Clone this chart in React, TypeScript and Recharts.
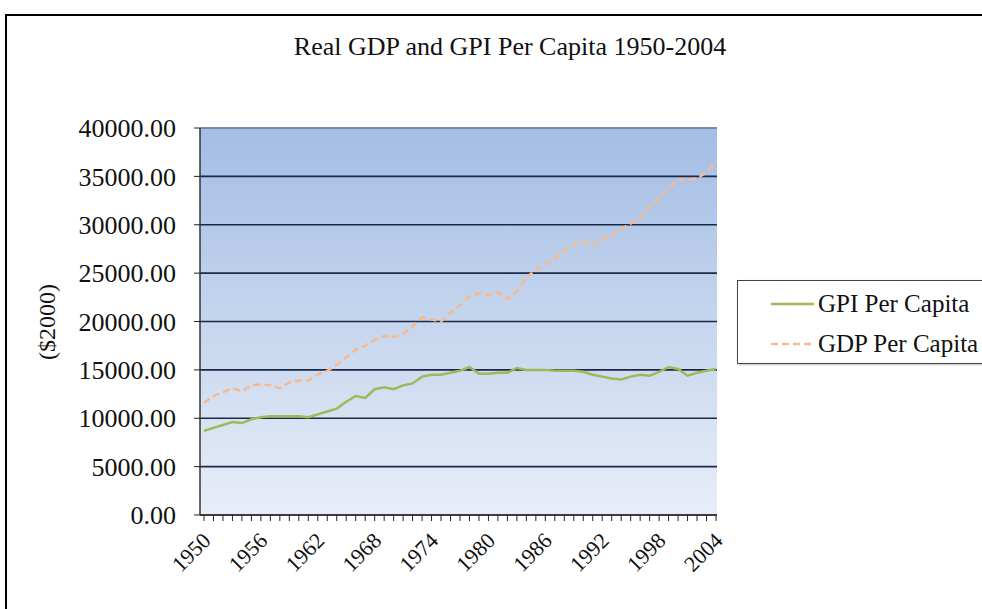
import { LineChart, Line, XAxis, YAxis, CartesianGrid, ReferenceLine } from "recharts";

const years = [
  1950, 1951, 1952, 1953, 1954, 1955, 1956, 1957, 1958, 1959,
  1960, 1961, 1962, 1963, 1964, 1965, 1966, 1967, 1968, 1969,
  1970, 1971, 1972, 1973, 1974, 1975, 1976, 1977, 1978, 1979,
  1980, 1981, 1982, 1983, 1984, 1985, 1986, 1987, 1988, 1989,
  1990, 1991, 1992, 1993, 1994, 1995, 1996, 1997, 1998, 1999,
  2000, 2001, 2002, 2003, 2004,
];

const gpiPerCapita = [
  8700, 9000, 9300, 9600, 9500, 9900, 10100, 10200, 10200, 10200,
  10200, 10100, 10400, 10700, 11000, 11700, 12300, 12100, 13000, 13200,
  13000, 13400, 13600, 14300, 14500, 14500, 14700, 14900, 15300, 14600,
  14600, 14700, 14700, 15200, 15000, 15000, 15000, 14900, 14900, 14900,
  14800, 14500, 14300, 14100, 14000, 14300, 14500, 14400, 14800, 15300,
  15100, 14400, 14700, 14900, 15100,
];

const gdpPerCapita = [
  11600, 12300, 12700, 13100, 12800, 13400, 13500, 13400, 13100, 13700,
  13900, 13900, 14500, 14900, 15500, 16300, 17100, 17500, 18100, 18500,
  18400, 18700, 19500, 20400, 20200, 20000, 20900, 21700, 22600, 22900,
  22700, 23000, 22300, 23100, 24600, 25300, 25900, 26500, 27300, 28000,
  28400, 27900, 28400, 28900, 29600, 30100, 30800, 31800, 32700, 33700,
  34700, 34600, 34800, 35400, 36500,
];

const yTicks = [0, 5000, 10000, 15000, 20000, 25000, 30000, 35000, 40000];
const labelYears = [1950, 1956, 1962, 1968, 1974, 1980, 1986, 1992, 1998, 2004];

const data = years.map((year, i) => ({
  year,
  gpi: gpiPerCapita[i],
  gdp: gdpPerCapita[i],
}));

const serif = "'Liberation Serif', 'Times New Roman', Times, serif";
const GREEN = "#9bbb59";
const ORANGE = "#f9b98a";

function YearTick({ x, y, payload }: any) {
  if (!labelYears.includes(payload.value)) return <g />;
  const ax = x + 8;
  const ay = y + 19;
  return (
    <text
      x={ax}
      y={ay}
      textAnchor="end"
      fontFamily={serif}
      fontSize={22}
      fill="#111"
      transform={`rotate(-45, ${ax}, ${ay})`}
    >
      {payload.value}
    </text>
  );
}

function LegendBox() {
  const rows = [
    { name: "GPI Per Capita", color: GREEN, dash: undefined },
    { name: "GDP Per Capita", color: ORANGE, dash: "7 4" },
  ];
  return (
    <div
      style={{
        position: "absolute",
        left: 737,
        top: 280,
        border: "1.5px solid #444",
        boxShadow: "1px 1px 2px rgba(0,0,0,0.25)",
        background: "#fff",
        width: 260,
        height: 84,
        boxSizing: "border-box",
        paddingTop: 3,
      }}
    >
      {rows.map((r) => (
        <div key={r.name} style={{ display: "flex", alignItems: "center", height: 40 }}>
          <svg width={80} height={10} style={{ flex: "none" }}>
            <line x1={33} y1={5} x2={76} y2={5} stroke={r.color} strokeWidth={2.5} strokeDasharray={r.dash} />
          </svg>
          <span style={{ fontFamily: serif, fontSize: 25, color: "#111", whiteSpace: "nowrap" }}>{r.name}</span>
        </div>
      ))}
    </div>
  );
}

export default function App() {
  return (
    <div style={{ position: "absolute", left: 0, top: 0, width: 982, height: 609, background: "#fff", overflow: "hidden" }}>
      <div
        style={{
          position: "absolute",
          left: 5,
          top: 14,
          width: 1000,
          height: 620,
          borderLeft: "2.5px solid #000",
          borderTop: "2.5px solid #000",
          boxSizing: "border-box",
        }}
      />
      <div
        style={{
          position: "absolute",
          left: 0,
          width: 1020,
          top: 32,
          textAlign: "center",
          fontFamily: serif,
          fontSize: 26,
          color: "#111",
        }}
      >
        Real GDP and GPI Per Capita 1950-2004
      </div>
      <div
        style={{
          position: "absolute",
          left: 47,
          top: 322,
          transform: "translate(-50%, -50%) rotate(-90deg)",
          fontFamily: serif,
          fontSize: 24,
          color: "#111",
          whiteSpace: "nowrap",
        }}
      >
        ($2000)
      </div>
      <div style={{ position: "absolute", left: 0, top: 0 }}>
        <LineChart width={982} height={609} data={data} margin={{ top: 128, right: 265, bottom: 24, left: 80 }}>
          <defs>
            <linearGradient id="plotBg" x1="0" y1="0" x2="0" y2="1">
              <stop offset="0%" stopColor="#a3bde4" />
              <stop offset="100%" stopColor="#e8eef8" />
            </linearGradient>
          </defs>
          <CartesianGrid vertical={false} fill="url(#plotBg)" fillOpacity={1} stroke="#1b2947" strokeWidth={1.6} />
          <ReferenceLine y={40000} stroke="#8e9bb0" strokeWidth={1.5} />
          <XAxis
            dataKey="year"
            interval={0}
            height={70}
            padding={{ left: 4, right: 1 }}
            tick={<YearTick />}
            tickSize={6}
            tickLine={{ stroke: "#222" }}
            axisLine={{ stroke: "#333", strokeWidth: 1.5 }}
          />
          <YAxis
            domain={[0, 40000]}
            ticks={yTicks}
            interval={0}
            width={120}
            tickFormatter={(v: number) => v.toFixed(2)}
            tick={{ fontFamily: serif, fontSize: 26, fill: "#111" }}
            tickSize={6}
            tickMargin={18}
            tickLine={{ stroke: "#222" }}
            axisLine={{ stroke: "#333", strokeWidth: 1.5 }}
          />
          <YAxis yAxisId="right" orientation="right" width={0} domain={[0, 40000]} tick={false} tickLine={false} axisLine={{ stroke: "#9aa3b3", strokeWidth: 1.5 }} />
          <Line
            type="linear"
            dataKey="gpi"
            name="GPI Per Capita"
            stroke={GREEN}
            strokeWidth={2.5}
            dot={false}
            isAnimationActive={false}
          />
          <Line
            type="linear"
            dataKey="gdp"
            name="GDP Per Capita"
            stroke={ORANGE}
            strokeWidth={2.5}
            strokeDasharray="7 4"
            dot={false}
            isAnimationActive={false}
          />
        </LineChart>
      </div>
      <LegendBox />
    </div>
  );
}
